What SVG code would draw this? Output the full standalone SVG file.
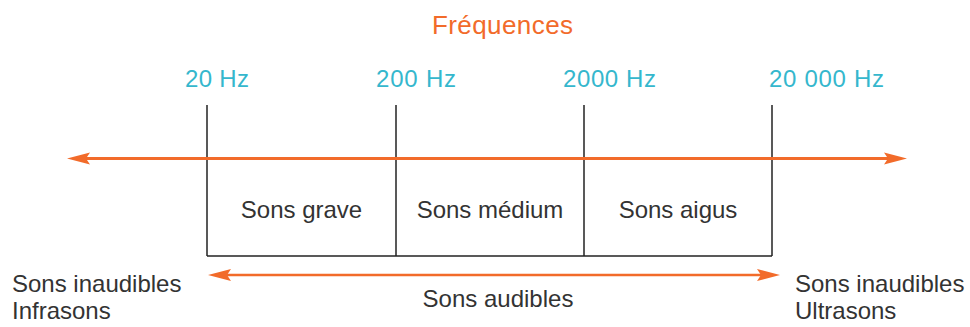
<svg xmlns="http://www.w3.org/2000/svg" width="970" height="327" viewBox="0 0 970 327">
  <style>
    .title { font-family: "Liberation Sans", Arial, sans-serif; font-size: 26px; fill: #F26B2A; }
    .freq { font-family: "Liberation Sans", Arial, sans-serif; font-size: 24px; fill: #35B7CD; }
    .lbl { font-family: "Liberation Sans", Arial, sans-serif; font-size: 24px; fill: #333333; }
    .tick { stroke: #222222; stroke-width: 1.5; fill: none; }
    .axis { stroke: #F26B2A; fill: none; }
  </style>
  <defs>
    <marker id="head" viewBox="-5 -7 25 14" refX="0" refY="0" markerWidth="25" markerHeight="14" markerUnits="userSpaceOnUse" orient="auto-start-reverse">
      <path d="M-4,-6 L19,0 L-4,6 L0,0 Z" fill="#F26B2A"/>
    </marker>
  </defs>

  <text class="title" x="432" y="34" textLength="141">Fréquences</text>

  <!-- frequency marks -->
  <g id="f20">
    <text class="freq" x="185" y="87" textLength="64">20 Hz</text>
    <line class="tick" x1="207" y1="105" x2="207" y2="256"/>
  </g>
  <g id="f200">
    <text class="freq" x="376" y="87" textLength="80">200 Hz</text>
    <line class="tick" x1="396" y1="105" x2="396" y2="256"/>
  </g>
  <g id="f2000">
    <text class="freq" x="563" y="87" textLength="93">2000 Hz</text>
    <line class="tick" x1="584" y1="105" x2="584" y2="256"/>
  </g>
  <g id="f20000">
    <text class="freq" x="769" y="87" textLength="115">20 000 Hz</text>
    <line class="tick" x1="772" y1="105" x2="772" y2="256"/>
  </g>

  <!-- audible band -->
  <g id="band">
    <line class="tick" x1="207" y1="256" x2="772" y2="256"/>
    <text class="lbl" x="301.5" y="218" text-anchor="middle">Sons grave</text>
    <text class="lbl" x="490" y="218" text-anchor="middle">Sons médium</text>
    <text class="lbl" x="678" y="218" text-anchor="middle">Sons aigus</text>
  </g>

  <g id="infra">
    <text class="lbl" x="12" y="292">Sons inaudibles</text>
    <text class="lbl" x="12" y="319">Infrasons</text>
  </g>
  <g id="ultra">
    <text class="lbl" x="795" y="292">Sons inaudibles</text>
    <text class="lbl" x="795" y="319">Ultrasons</text>
  </g>
  <g id="audible">
    <text class="lbl" x="498" y="307" text-anchor="middle">Sons audibles</text>
  </g>

  <!-- connectors -->
  <g id="connectors">
    <line class="axis" x1="86" y1="158.5" x2="888" y2="158.5" stroke-width="3" marker-start="url(#head)" marker-end="url(#head)"/>
    <line class="axis" x1="227" y1="275" x2="761" y2="275" stroke-width="2.5" marker-start="url(#head)" marker-end="url(#head)"/>
  </g>
</svg>
